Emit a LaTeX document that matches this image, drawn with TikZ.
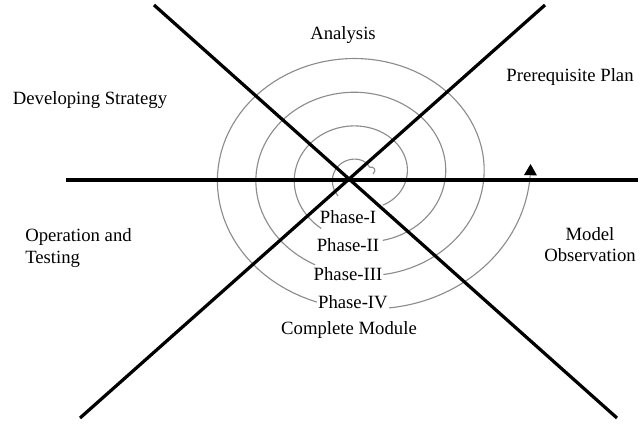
\documentclass[tikz,border=0pt]{standalone}
\usepackage{fontspec}
\setmainfont{Liberation Serif}
\usetikzlibrary{arrows.meta,positioning}

\begin{document}
\begin{tikzpicture}[x=0.025cm,y=0.025cm,node distance=10.4pt,
    declare function={sr(\q)=8.1+6.13*\q;},
    axis/.style={line width=2.3pt,draw=black},
    spir/.style={draw=black!45,line width=0.8pt},
    lbl/.style={font=\fontsize{13.3}{15}\selectfont,inner sep=0pt,align=center}]
%
   \useasboundingbox (-349,-243) rectangle (294,180);
   \coordinate (O) at (0,0);
   \coordinate (tl) at (-195,175);
   \coordinate (br) at (268,-238);
   \coordinate (tr) at (196,175);
   \coordinate (bl) at (-269,-238);
   \coordinate (le) at (-283,0);
   \coordinate (ri) at (289,0);
   \coordinate (hook) at (24,6);
%
   % spiral, broken where the phase labels sit
   \draw[spir] (hook) .. controls (28,10) and (25,14) .. (20.5,12.7)
         plot[domain=0.8:3.95,samples=50,variable=\q]
         ({11.4+sr(\q)*cos(\q r)},{4.5+0.877*sr(\q)*sin(\q r)});
   \draw[spir] plot[domain=5.30:10.42,samples=80,variable=\q]
         ({11.4+sr(\q)*cos(\q r)},{4.5+0.877*sr(\q)*sin(\q r)});
   \draw[spir] plot[domain=11.29:16.86,samples=90,variable=\q]
         ({11.4+sr(\q)*cos(\q r)},{4.5+0.877*sr(\q)*sin(\q r)});
   \draw[spir] plot[domain=17.48:23.27,samples=100,variable=\q]
         ({11.4+sr(\q)*cos(\q r)},{4.5+0.877*sr(\q)*sin(\q r)});
   \draw[spir,-{Triangle[length=8pt,width=9pt,color=black]}] plot[domain=23.75:25.21,samples=40,variable=\q]
         ({11.4+(sr(\q)+5.5*(\q-23.75))*cos(\q r)},{4.5+0.877*(sr(\q)+5.5*(\q-23.75))*sin(\q r)});
%
   \draw[axis] (le) -- (ri);
   \draw[axis] (tl) -- (br);
   \draw[axis] (tr) -- (bl);
%
   \node[lbl]         (ana) at (-6,145)   {Analysis};
   \node[lbl]         (pre) at (221,103)  {Prerequisite Plan};
   \node[lbl]         (dev) at (-259,80)  {Developing Strategy};
   \node[lbl,align=left,anchor=west] (opt) at (-324,-68) {Operation and\\Testing};
   \node[lbl]         (mod) at (241,-65)  {Model\\Observation};
   \node[lbl]         (ph1) at (-1,-37)   {Phase-I};
   \node[lbl]         (ph2) [below=of ph1] {Phase-II};
   \node[lbl]         (ph3) [below=of ph2] {Phase-III};
   \node[lbl]         (ph4) [below=of ph3,xshift=3.5pt] {Phase-IV};
   \node[lbl]         (cm)  at (0,-150)   {Complete Module};
\end{tikzpicture}
\end{document}
